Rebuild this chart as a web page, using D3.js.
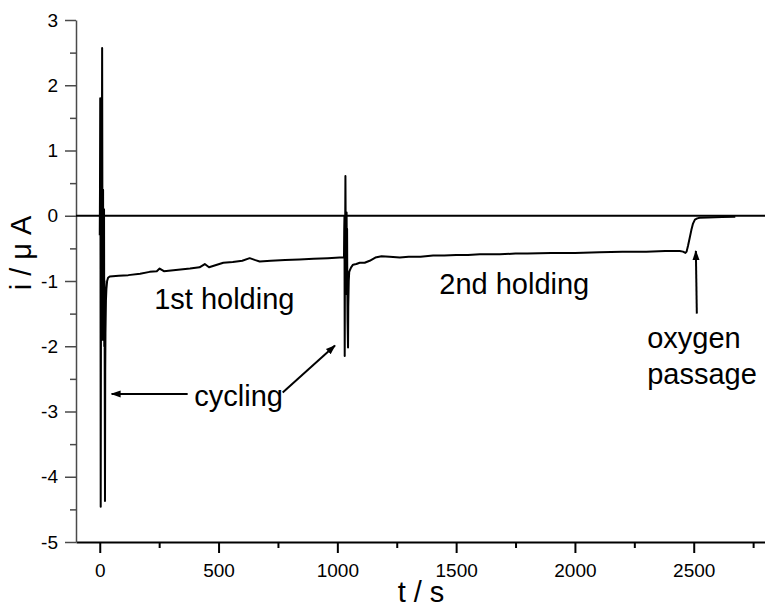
<!DOCTYPE html>
<meta charset="utf-8">
<style>
    body {
        margin: 0;
        background-color: #ffffff;
    }

    svg text {
        font-family: "Liberation Sans", Arial, sans-serif;
        fill: #000;
    }

    .axis text {
        font-size: 19px;
    }

    .y.axis path,
    .y.axis line {
        stroke: #4a4a4a;
        stroke-width: 1.5px;
    }

    .x.axis path,
    .x.axis line {
        stroke: #000;
        stroke-width: 2px;
    }

    .trace {
        fill: none;
        stroke: #000;
        stroke-width: 2px;
        stroke-linejoin: round;
    }

    .label {
        font-size: 29px;
    }
</style>

<body>
    <svg width="765" height="608"></svg>
    <script src="https://d3js.org/d3.v7.min.js"></script>
    <script>
        // time (s) and current (uA)
        var cycling1 = [
            [0, -0.3], [1, 0.4], [2, 1.8], [3, 0.1], [4, -4.46], [5, -1.9], [6, -0.4],
            [7, 0.5], [8, -1.2], [9, 0.9], [10, 2.57], [11, 0.3], [12, -1.9], [13, -0.6],
            [14, 0.4], [15, -1.6], [16, -0.3], [17, -1.8], [18, 0.1], [19, -2.0],
            [20, -1.0], [21, -2.6], [22, -4.37], [23, -2.4], [24, -1.8], [26, -1.3],
            [28, -1.12], [31, -1.0], [35, -0.95]
        ];
        var holding1 = [
            [42, -0.93], [80, -0.92], [120, -0.91], [170, -0.89], [210, -0.86], [240, -0.85],
            [252, -0.81], [270, -0.85], [320, -0.83], [380, -0.81], [420, -0.79], [442, -0.74],
            [460, -0.79], [520, -0.72], [560, -0.71], [600, -0.69], [631, -0.65], [655, -0.68],
            [673, -0.70], [720, -0.69], [780, -0.68], [840, -0.67], [900, -0.66], [960, -0.65],
            [1010, -0.64], [1028, -0.64]
        ];
        var cycling2 = [
            [1029, -0.2], [1030, 0.0], [1031, -2.15], [1032, -0.8], [1033, -0.2], [1034, 0.61],
            [1035, -0.1], [1036, -0.6], [1037, -1.2], [1038, -0.3], [1039, 0.05], [1040, -0.9],
            [1041, -0.2], [1042, -1.1], [1043, -1.6], [1045, -2.02], [1046, -1.4], [1048, -1.0],
            [1050, -0.86]
        ];
        var holding2 = [
            [1052, -0.84], [1058, -0.79], [1066, -0.75], [1080, -0.74], [1094, -0.72],
            [1115, -0.72], [1136, -0.69], [1160, -0.64], [1186, -0.62], [1220, -0.63],
            [1263, -0.64], [1300, -0.63], [1350, -0.63], [1403, -0.61], [1450, -0.61],
            [1500, -0.60], [1550, -0.60], [1600, -0.59], [1684, -0.59], [1750, -0.58],
            [1800, -0.58], [1900, -0.57], [2000, -0.57], [2104, -0.56], [2200, -0.55],
            [2300, -0.55], [2380, -0.54], [2441, -0.54], [2455, -0.55], [2465, -0.57],
            [2470, -0.55], [2476, -0.46], [2483, -0.34], [2490, -0.22], [2497, -0.12]
        ];
        var oxygen = [
            [2505, -0.06], [2515, -0.04], [2525, -0.03], [2560, -0.025], [2620, -0.02],
            [2675, -0.015]
        ];

        var xMajor = [0, 500, 1000, 1500, 2000, 2500];
        var xMinor = [250, 750, 1250, 1750, 2250, 2750];
        var yMajor = [-5, -4, -3, -2, -1, 0, 1, 2, 3];
        var yMinor = [-4.5, -3.5, -2.5, -1.5, -0.5, 0.5, 1.5, 2.5];

        // annotations: [text, t, i]
        var labels = [
            ["1st holding", 229, -1.43],
            ["2nd holding", 1429, -1.20],
            ["cycling", 398, -2.91],
            ["oxygen", 2304, -2.02],
            ["passage", 2304, -2.58]
        ];
        // arrows: [t0, i0, t1, i1], head at the second point
        var arrows = [
            [370, -2.73, 50, -2.73],
            [770, -2.71, 990, -1.99],
            [2513, -1.50, 2509, -0.54]
        ];

        var svg = d3.select("svg"),
            margin = { top: 20, right: 0, bottom: 66, left: 76 },
            width = +svg.attr("width") - margin.left - margin.right,
            height = +svg.attr("height") - margin.top - margin.bottom;

        var x = d3.scaleLinear().domain([-100, 2800]).range([0, width]);
        var y = d3.scaleLinear().domain([-5, 3]).range([height, 0]);

        // plain hyphen minus, no thousands separator
        var plain = function(d) { return String(d); };

        svg.append("defs").append("marker")
            .attr("id", "head")
            .attr("viewBox", "0 0 10 10")
            .attr("refX", 9)
            .attr("refY", 5)
            .attr("markerWidth", 5)
            .attr("markerHeight", 5)
            .attr("markerUnits", "strokeWidth")
            .attr("orient", "auto")
            .append("path")
            .attr("d", "M0,1.5L10,5L0,8.5z")
            .attr("fill", "#000");

        var g = svg.append("g")
            .attr("transform", "translate(" + margin.left + "," + margin.top + ")");

        // minor ticks first, then the labelled axes on top
        g.append("g")
            .attr("class", "x axis")
            .attr("transform", "translate(0," + height + ")")
            .call(d3.axisBottom(x).tickValues(xMinor).tickSize(6).tickFormat(""))
            .select(".domain").remove();
        g.append("g")
            .attr("class", "y axis")
            .call(d3.axisLeft(y).tickValues(yMinor).tickSize(6).tickFormat(""))
            .select(".domain").remove();

        var xAxis = g.append("g")
            .attr("class", "x axis")
            .attr("transform", "translate(0," + height + ")")
            .call(d3.axisBottom(x).tickValues(xMajor).tickSize(11).tickSizeOuter(0)
                .tickFormat(plain));
        xAxis.selectAll("text").attr("y", 35).attr("dy", null);

        var yAxis = g.append("g")
            .attr("class", "y axis")
            .call(d3.axisLeft(y).tickValues(yMajor).tickSize(11).tickSizeOuter(0)
                .tickFormat(plain));
        yAxis.selectAll("text").attr("x", -18);

        // zero line
        g.append("line")
            .attr("x1", 0)
            .attr("x2", width)
            .attr("y1", y(0))
            .attr("y2", y(0))
            .attr("stroke", "#000")
            .attr("stroke-width", 2);

        var line = d3.line()
            .x(function(d) { return x(d[0]); })
            .y(function(d) { return y(d[1]); });

        var trace = cycling1.concat(holding1, cycling2, holding2, oxygen);
        g.append("path")
            .datum(trace)
            .attr("class", "trace")
            .attr("d", line);

        g.selectAll(".arrow")
            .data(arrows)
            .enter().append("line")
            .attr("class", "arrow")
            .attr("x1", function(d) { return x(d[0]); })
            .attr("y1", function(d) { return y(d[1]); })
            .attr("x2", function(d) { return x(d[2]); })
            .attr("y2", function(d) { return y(d[3]); })
            .attr("stroke", "#000")
            .attr("stroke-width", 2)
            .attr("marker-end", "url(#head)");

        g.selectAll(".label")
            .data(labels)
            .enter().append("text")
            .attr("class", "label")
            .attr("x", function(d) { return x(d[1]); })
            .attr("y", function(d) { return y(d[2]); })
            .text(function(d) { return d[0]; });

        // axis titles
        svg.append("text")
            .attr("class", "label")
            .attr("text-anchor", "middle")
            .attr("x", 421)
            .attr("y", 602)
            .text("t / s");
        svg.append("text")
            .attr("class", "label")
            .attr("text-anchor", "middle")
            .attr("transform", "translate(31,253) rotate(-90)")
            .text("i / \u03bc A");
    </script>
</body>
